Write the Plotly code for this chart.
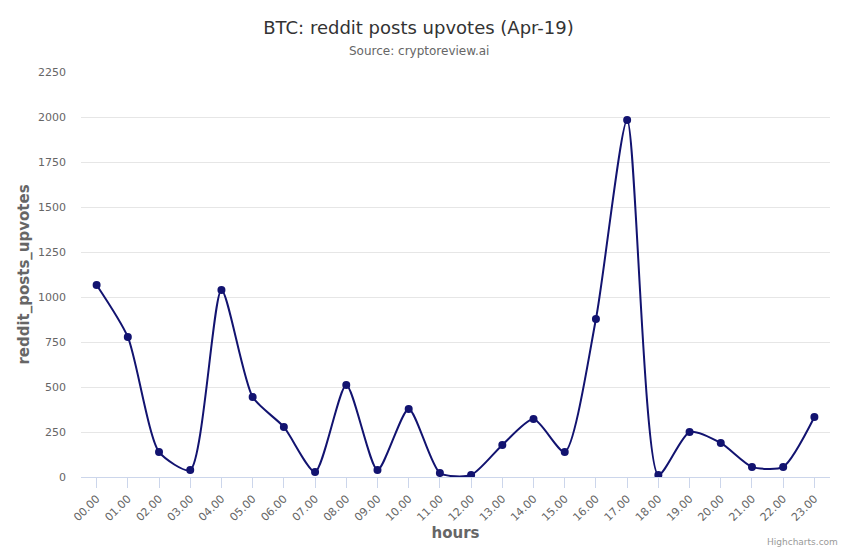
import plotly.graph_objects as go

hours = ["00.00", "01.00", "02.00", "03.00", "04.00", "05.00", "06.00", "07.00",
         "08.00", "09.00", "10.00", "11.00", "12.00", "13.00", "14.00", "15.00",
         "16.00", "17.00", "18.00", "19.00", "20.00", "21.00", "22.00", "23.00"]
upvotes = [1067, 778, 139, 39, 1039, 444, 278, 28, 511, 39, 378, 22,
           11, 178, 322, 139, 878, 1983, 11, 250, 189, 56, 56, 333]
y_ticks = [0, 250, 500, 750, 1000, 1250, 1500, 1750, 2000, 2250]

color = "#121370"
fig = go.Figure()
fig.add_trace(go.Scatter(
    x=list(range(len(hours))), y=upvotes, mode="lines+markers",
    line=dict(color=color, width=2, shape="spline", smoothing=0.65),
    marker=dict(color=color, size=8),
    showlegend=False,
))

fig.update_layout(
    width=850, height=550,
    margin=dict(l=81, r=20, t=72, b=73),
    paper_bgcolor="white", plot_bgcolor="white",
    font=dict(family="DejaVu Sans", color="#666666"),
    title=dict(text="BTC: reddit posts upvotes (Apr-19)", x=418.5 / 850, xanchor="center",
               y=1 - 28 / 550, yanchor="middle",
               font=dict(family="DejaVu Sans", size=18, color="#333333")),
    xaxis=dict(
        range=[-0.5, 23.5], tickmode="array", tickvals=list(range(len(hours))),
        ticktext=hours, tickangle=-45, tickfont=dict(size=11, color="#666666"),
        showgrid=False, showline=True, linecolor="#ccd6eb", linewidth=1,
        ticks="outside", ticklen=10, tickcolor="#ccd6eb", zeroline=False,
        automargin=False,
        title=dict(text="<b>hours</b>", font=dict(size=15, color="#666666"), standoff=3),
    ),
    yaxis=dict(
        range=[0, 2250], tickmode="array", tickvals=y_ticks,
        tickfont=dict(size=11, color="#666666"),
        showgrid=True, gridcolor="#e6e6e6", gridwidth=1, zeroline=False,
        showline=False, ticks="", ticklabelstandoff=14, automargin=False,
        title=dict(text="<b>reddit_posts_upvotes</b>", font=dict(size=15, color="#666666"), standoff=4),
    ),
    annotations=[
        dict(text="Source: cryptoreview.ai", xref="paper", yref="paper",
             x=(419 - 81) / 749, y=1 + (72 - 51) / 405, xanchor="center", yanchor="middle",
             showarrow=False,
             font=dict(family="DejaVu Sans", size=12, color="#666666")),
        dict(text="Highcharts.com", xref="paper", yref="paper",
             x=1 + 10 / 749, y=-(542 - 477) / 405, xanchor="right", yanchor="middle",
             showarrow=False, font=dict(size=9, color="#999999")),
    ],
)

fig.write_html("out.html")
